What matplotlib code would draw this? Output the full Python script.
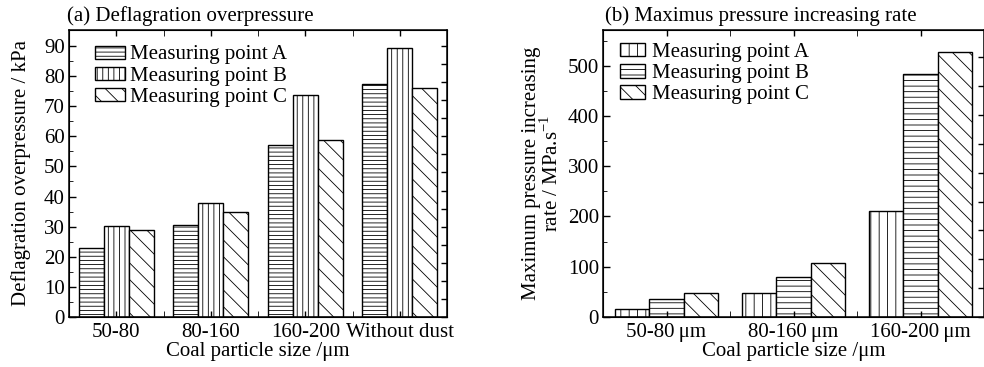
import matplotlib
matplotlib.use("Agg")
import matplotlib.pyplot as plt
import numpy as np

plt.rcParams['font.family'] = ['Liberation Serif', 'DejaVu Serif']
plt.rcParams['mathtext.fontset'] = 'custom'
plt.rcParams['mathtext.rm'] = 'Liberation Serif'
plt.rcParams['hatch.linewidth'] = 0.6
plt.rcParams['xtick.direction'] = 'in'
plt.rcParams['ytick.direction'] = 'in'

# ---- data (a) ----
cats_a = ["50-80", "80-160", "160-200", "Without dust"]
a_A = [23.0, 30.5, 57.0, 77.5]
a_B = [30.2, 38.0, 73.7, 89.3]
a_C = [29.0, 35.0, 58.7, 76.0]

# ---- data (b) ----
cats_b = ["50-80\u2009\u03bcm", "80-160\u2009\u03bcm", "160-200\u2009\u03bcm"]
b_A = [15, 47, 210]
b_B = [35, 80, 483]
b_C = [48, 107, 527]

series_labels = ["Measuring point A", "Measuring point B", "Measuring point C"]

FS = 15
fig = plt.figure(figsize=(9.84, 3.67), dpi=100)

# ---------- panel (a) ----------
ax1 = fig.add_axes([69/984, 1-317/367, (447-69)/984, (317-30)/367])
x = np.arange(len(cats_a))
w = 0.265
hat_a = ['----', '|||', '\\\\']
for i, (vals, h) in enumerate(zip([a_A, a_B, a_C], hat_a)):
    ax1.bar(x + (i-1)*w, vals, w, facecolor='white', edgecolor='black',
            hatch=h, linewidth=1.0, label=series_labels[i])
ax1.set_xlim(-0.5, 3.5)
ax1.set_ylim(0, 95.3)
ax1.set_yticks(np.arange(0, 91, 10))
ax1.set_yticks(np.arange(5, 95, 10), minor=True)
ax1.set_xticks(x)
ax1.set_xticklabels(cats_a, fontsize=FS)
ax1.set_xticks([0.5, 1.5, 2.5], minor=True)
ax1.tick_params(axis='y', labelsize=FS, length=5, width=1.0, right=False, pad=3)
ax1.tick_params(axis='y', which='minor', length=3)
ax1.tick_params(axis='x', top=True, length=4, width=1.0, pad=4)
ax1.tick_params(axis='x', which='minor', top=True, length=4)
ax1.set_ylabel("Deflagration overpressure / kPa", fontsize=FS, labelpad=9.5)
ax1.set_xlabel("Coal particle size /\u03bcm", fontsize=FS, labelpad=0)
for s in ax1.spines.values():
    s.set_linewidth(1.1)
ax1r = ax1.twinx()
ax1r.set_ylim(ax1.get_ylim())
ax1r.set_yticks(np.arange(0, 95, 6))
ax1r.set_yticklabels([])
ax1r.tick_params(axis='y', direction='in', length=4, width=1.0)
ax1.text(-0.005, 1.015, "(a) Deflagration overpressure", transform=ax1.transAxes,
         fontsize=FS, ha='left', va='bottom')
leg1 = ax1.legend(loc='upper left', bbox_to_anchor=(0.069, 0.946), frameon=False,
                  fontsize=FS, handlelength=1.44, handleheight=0.6,
                  labelspacing=0.1, handletextpad=0.25, borderaxespad=0,
                  borderpad=0)

# ---------- panel (b) ----------
ax2 = fig.add_axes([603/984, 1-317/367, 381/984, (317-30)/367])
xb = np.arange(len(cats_b))
wb = 0.268
hat_b = ['||', '---', '\\\\']
for i, (vals, h) in enumerate(zip([b_A, b_B, b_C], hat_b)):
    ax2.bar(xb + (i-1)*wb, vals, wb, facecolor='white', edgecolor='black',
            hatch=h, linewidth=1.0, label=series_labels[i])
ax2.set_xlim(-0.5, 2.5)
ax2.set_ylim(0, 571)
ax2.set_yticks(np.arange(0, 501, 100))
ax2.set_yticks(np.arange(50, 560, 100), minor=True)
ax2.set_xticks(xb)
ax2.set_xticklabels(cats_b, fontsize=FS)
ax2.set_xticks([0.5, 1.5], minor=True)
ax2.tick_params(axis='y', labelsize=FS, length=5, width=1.0, right=False, pad=3)
ax2.tick_params(axis='y', which='minor', length=3)
ax2.tick_params(axis='x', top=True, length=4, width=1.0, pad=4)
ax2.tick_params(axis='x', which='minor', top=True, length=4)
ax2.set_ylabel("Maximum pressure increasing\nrate / MPa.s$^{-1}$", fontsize=FS,
               labelpad=3.5, linespacing=0.95)
ax2.set_xlabel("Coal particle size /\u03bcm", fontsize=FS, labelpad=0)
for s in ax2.spines.values():
    s.set_linewidth(1.1)
ax2r = ax2.twinx()
ax2r.set_ylim(ax2.get_ylim())
ax2r.set_yticks(np.arange(0, 571, 57.4))
ax2r.set_yticklabels([])
ax2r.tick_params(axis='y', direction='in', length=4, width=1.0)
ax2.text(0.005, 1.015, "(b) Maximus pressure increasing rate", transform=ax2.transAxes,
         fontsize=FS, ha='left', va='bottom')
leg2 = ax2.legend(loc='upper left', bbox_to_anchor=(0.045, 0.954), frameon=False,
                  fontsize=FS, handlelength=1.2, handleheight=0.6,
                  labelspacing=0.1, handletextpad=0.33, borderaxespad=0,
                  borderpad=0)

fig.savefig("out.png", dpi=100)
